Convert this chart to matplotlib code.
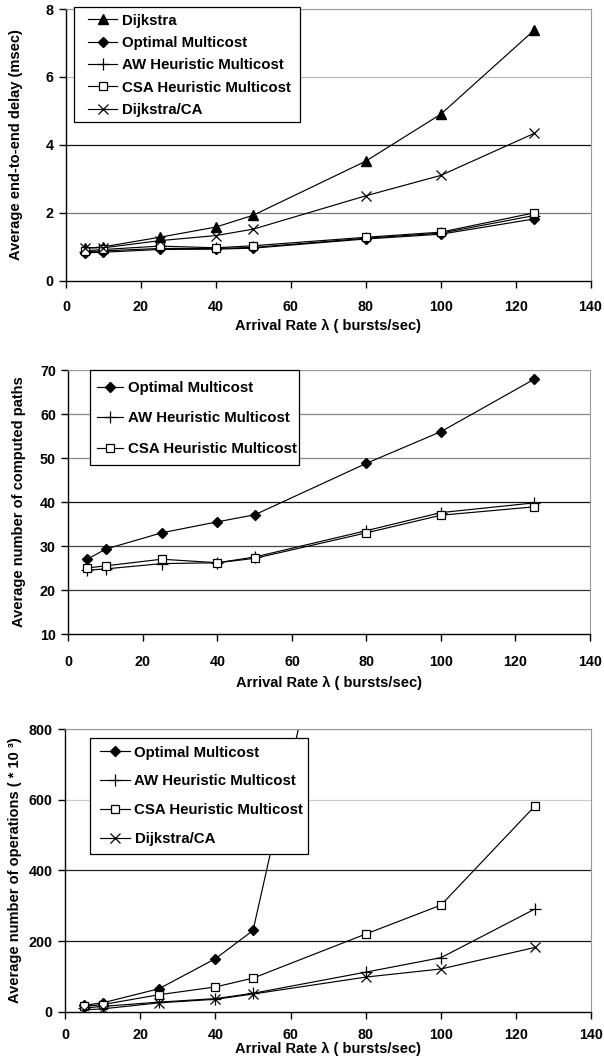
import matplotlib
matplotlib.use("Agg")
import matplotlib.pyplot as plt
from matplotlib.patches import Rectangle

plt.rcParams.update({'font.family': ['Liberation Sans', 'DejaVu Sans'],
                     'font.weight': 'bold', 'font.size': 10})

# arrival rate (bursts/sec)
rate = [5, 10, 25, 40, 50, 80, 100, 125]

# top: average end-to-end delay (msec)
delay_dijkstra = [0.95, 1.0, 1.28, 1.58, 1.93, 3.52, 4.9, 7.38]
delay_optimal = [0.82, 0.84, 0.92, 0.93, 0.96, 1.23, 1.37, 1.82]
delay_aw = [0.85, 0.88, 0.95, 0.95, 0.98, 1.25, 1.40, 1.92]
delay_csa = [0.88, 0.92, 1.02, 0.97, 1.03, 1.28, 1.43, 2.0]
delay_dijkstra_ca = [0.97, 0.97, 1.18, 1.33, 1.52, 2.5, 3.1, 4.34]

# middle: average number of computed paths
paths_optimal = [27, 29.3, 33, 35.5, 37.1, 48.8, 56, 67.9]
paths_aw = [24.5, 24.8, 26, 26.2, 27.5, 33.5, 37.6, 39.8]
paths_csa = [25, 25.5, 27, 26.2, 27.2, 33, 37, 38.9]

# bottom: average number of operations (*10^3)
rate_ops_optimal = [5, 10, 25, 40, 50, 80]
ops_optimal = [18, 25, 65, 150, 230, 1650]
ops_aw = [10, 15, 27, 37, 52, 112, 153, 291]
ops_csa = [15, 20, 48, 70, 95, 220, 302, 583]
ops_dijkstra_ca = [5, 8, 25, 35, 50, 98, 121, 182]

xlabel = "Arrival Rate \u03bb ( bursts/sec)"

# marker styles per algorithm
marks = {
    "Dijkstra": dict(marker="^", ms=7, mfc="black", mec="black"),
    "Optimal Multicost": dict(marker="D", ms=5, mfc="black", mec="black"),
    "AW Heuristic Multicost": dict(marker="+", ms=8, mew=0.9, mec="black"),
    "CSA Heuristic Multicost": dict(marker="s", ms=6, mfc="white", mec="black", mew=0.9),
    "Dijkstra/CA": dict(marker="x", ms=6.5, mew=0.9, mec="black"),
}

W, H = 604, 1059


def draw(ax, x, y, name):
    ax.plot(x, y, color="black", lw=0.85, label=name, **marks[name])


def dress(ax, ylim, yticks, gridcols, ylab, xpad, xlab_y):
    ax.set_xlim(0, 140)
    ax.set_xticks(range(0, 141, 20))
    ax.set_ylim(*ylim)
    ax.set_yticks(yticks)
    for val, col in zip(yticks[1:], gridcols):
        ax.axhline(val, color=col, lw=0.9, zorder=0)
    for s in ["top", "right"]:
        ax.spines[s].set_color("#999999")
    for s in ["left", "bottom"]:
        ax.spines[s].set_linewidth(1.0)
    ax.tick_params(axis="x", direction="out", length=5, width=1, pad=xpad, labelsize=10.3)
    ax.tick_params(axis="y", direction="out", length=5, width=1, pad=4, labelsize=10.3)
    ax.set_xlabel(xlabel, fontsize=10.5, fontweight="bold")
    ax.xaxis.set_label_coords(0.5, xlab_y)
    ax.set_ylabel(ylab, fontsize=10.5, fontweight="bold")
    ax.yaxis.set_label_coords(-0.082, 0.5)


def add_legend(ax, box, first_row, spacing, hlen):
    # box in pixels: left, top, right, bottom
    x0, y0, x1, y1 = box
    fig.add_artist(Rectangle((x0 / W, 1 - y1 / H), (x1 - x0) / W, (y1 - y0) / H,
                             transform=fig.transFigure, facecolor="white",
                             edgecolor="black", lw=0.9, zorder=5))
    handles, labels = ax.get_legend_handles_labels()
    leg = fig.legend(handles, labels, loc="upper left",
                     bbox_to_anchor=(first_row[0] / W, 1 - first_row[1] / H),
                     frameon=False, borderaxespad=0, borderpad=0,
                     labelspacing=spacing, handlelength=hlen, handletextpad=0.3,
                     prop=dict(size=10.8, weight="bold"))
    leg.set_zorder(6)


fig = plt.figure(figsize=(6.04, 10.59), dpi=100)

ax1 = fig.add_axes([0.1093, 0.7349, 0.8684, 0.2566])
draw(ax1, rate, delay_dijkstra, "Dijkstra")
draw(ax1, rate, delay_optimal, "Optimal Multicost")
draw(ax1, rate, delay_aw, "AW Heuristic Multicost")
draw(ax1, rate, delay_csa, "CSA Heuristic Multicost")
draw(ax1, rate, delay_dijkstra_ca, "Dijkstra/CA")
dress(ax1, (0, 8), [0, 2, 4, 6, 8], ["#777777", "#111111", "#bbbbbb", "#aaaaaa"],
      "Average end-to-end delay (msec)", 9, -0.141)
add_legend(ax1, (74, 7, 300, 122), (88, 13.5), 0.56, 1.95)

ax2 = fig.add_axes([0.1134, 0.4013, 0.8634, 0.2493])
draw(ax2, rate, paths_optimal, "Optimal Multicost")
draw(ax2, rate, paths_aw, "AW Heuristic Multicost")
draw(ax2, rate, paths_csa, "CSA Heuristic Multicost")
dress(ax2, (10, 70), [10, 20, 30, 40, 50, 60, 70],
      ["#333333", "#444444", "#111111", "#888888", "#888888", "#aaaaaa"],
      "Average number of computed paths", 10, -0.159)
add_legend(ax2, (90, 370, 299, 465), (97, 381), 1.1, 1.75)

ax3 = fig.add_axes([0.1076, 0.0447, 0.8717, 0.2667])
draw(ax3, rate_ops_optimal, ops_optimal, "Optimal Multicost")
draw(ax3, rate, ops_aw, "AW Heuristic Multicost")
draw(ax3, rate, ops_csa, "CSA Heuristic Multicost")
draw(ax3, rate, ops_dijkstra_ca, "Dijkstra/CA")
dress(ax3, (0, 800), [0, 200, 400, 600, 800], ["#111111", "#222222", "#cccccc", "#999999"],
      "Average number of operations ( * 10 \u00b3)", 6.5, -0.107)
add_legend(ax3, (90, 738, 308, 854), (100, 745.5), 0.99, 2.0)

fig.savefig("out.png", dpi=100)
